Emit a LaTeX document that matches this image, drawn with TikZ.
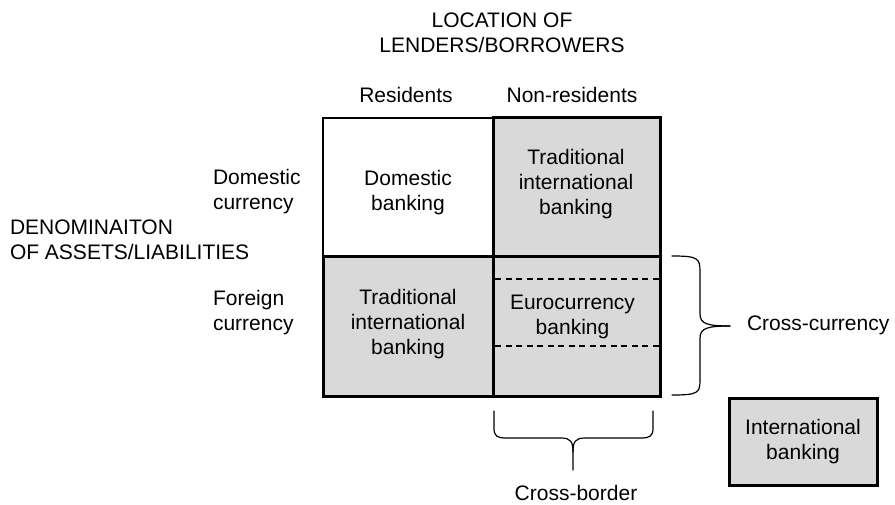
\documentclass[tikz,border=0pt]{standalone}
\usepackage{fontspec}
\setmainfont{Liberation Sans}
\definecolor{cellgray}{HTML}{D9D9D9}
\tikzset{
  txt/.style={inner sep=0pt, outer sep=0pt, align=center},
  txtl/.style={inner sep=0pt, outer sep=0pt, align=left, anchor=west},
  cellbox/.style={draw=black, inner sep=0pt, outer sep=0pt, line join=miter},
  whitecell/.style={cellbox, fill=white, line width=2.2pt},
  graycell/.style={cellbox, fill=cellgray, line width=3pt},
  dashline/.style={line width=1.2pt, dash pattern=on 6pt off 4.5pt},
  bracestroke/.style={line width=1.2pt, line cap=round, line join=round},
}
\begin{document}
\begin{tikzpicture}[x=1pt, y=-1pt, font=\fontsize{21}{25}\selectfont]
\useasboundingbox (0,0) rectangle (895,504);

% grid cells
\node[whitecell, minimum width=170pt, minimum height=138pt] (dom) at (408,187) {};
\node[graycell, minimum width=170pt, minimum height=140pt] (tin2) at (408,326) {};
\node[graycell, minimum width=167pt, minimum height=139pt] (tin1) at (576.5,186.5) {};
\node[graycell, minimum width=167pt, minimum height=140pt] (euro) at (576.5,326) {};

% dashed lines in eurocurrency cell
\coordinate (d1a) at (495,279);
\coordinate (d1b) at (658.5,279);
\coordinate (d2a) at (495,346);
\coordinate (d2b) at (658.5,346);
\draw[dashline] (d1a) -- (d1b);
\draw[dashline] (d2a) -- (d2b);

% cell texts
\node[txt] (tdom) at (408,193) {Domestic\\banking};
\node[txt] (ttin1) at (576,184) {Traditional\\international\\banking};
\node[txt] (ttin2) at (408,324) {Traditional\\international\\banking};
\node[txt] (teuro) at (572.5,316.5) {Eurocurrency\\banking};

% headings
\node[txt] (loc) at (502,33) {LOCATION OF\\LENDERS/BORROWERS};
\node[txt] (res) at (406,94.5) {Residents};
\node[txt] (nonres) at (572,94.5) {Non-residents};
\node[txtl] (denom) at (10,240) {DENOMINAITON\\OF ASSETS/LIABILITIES};
\node[txtl] (domcur) at (213,192) {Domestic\\currency};
\node[txtl] (forcur) at (213,313) {Foreign\\currency};

% cross-currency brace
\coordinate (cc1) at (672,256);
\coordinate (cc2) at (672,395);
\coordinate (cctip) at (730,326);
\draw[bracestroke] (cc1) .. controls (698,256) and (700,258) .. (700,272)
  -- (700,314) .. controls (700,324) and (708,326) .. (cctip);
\draw[bracestroke] (cctip) .. controls (708,326) and (700,328) .. (700,338)
  -- (700,380) .. controls (700,393) and (698,395) .. (cc2);
\node[txtl] (cclab) at (747,325) {Cross-currency};

% cross-border brace
\coordinate (cb1) at (494,411);
\coordinate (cb2) at (653,411);
\coordinate (cbtip) at (573,470);
\draw[bracestroke] (cb1) -- (494,428) .. controls (494,436) and (497,438) .. (506,438)
  -- (561,438) .. controls (571,438) and (573,442) .. (573,452) -- (cbtip);
\draw[bracestroke] (cb2) -- (653,428) .. controls (653,436) and (650,438) .. (641,438)
  -- (585,438) .. controls (575,438) and (573,442) .. (573,452);
\node[txt] (cblab) at (576,492.5) {Cross-border};

% legend
\node[graycell, minimum width=148pt, minimum height=87pt] (legend) at (803,441.5) {};
\node[txt] (tlegend) at (803,442) {International\\banking};
\end{tikzpicture}
\end{document}
